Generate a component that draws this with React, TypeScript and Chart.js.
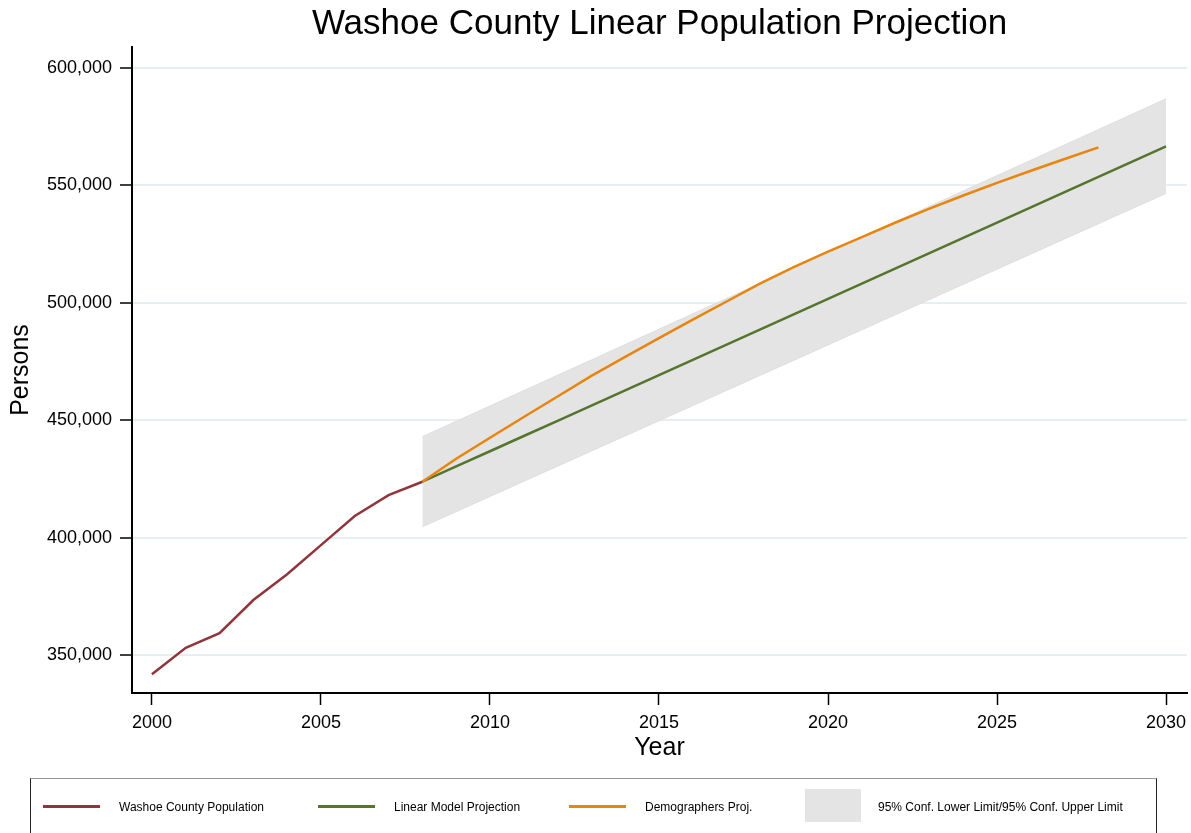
import React, { useEffect, useRef } from "react";
import { Chart, registerables } from "chart.js";

Chart.register(...registerables);

const FONT = "'Liberation Sans', Arial, Helvetica, sans-serif";

const TITLE = "Washoe County Linear Population Projection";
const X_TITLE = "Year";
const Y_TITLE = "Persons";

const X_TICKS = [2000, 2005, 2010, 2015, 2020, 2025, 2030];
const Y_TICKS = [350000, 400000, 450000, 500000, 550000, 600000];

const POP_YEARS = [2000, 2001, 2002, 2003, 2004, 2005, 2006, 2007, 2008];
const POP_VALUES = [341800, 353100, 359300, 373400, 384400, 396800, 409200, 418100, 423800];

const PROJ_YEARS = [
  2008, 2009, 2010, 2011, 2012, 2013, 2014, 2015, 2016, 2017, 2018, 2019,
  2020, 2021, 2022, 2023, 2024, 2025, 2026, 2027, 2028, 2029, 2030,
];
const LINEAR_VALUES = [
  423800, 430290, 436780, 443270, 449760, 456250, 462740, 469230, 475720, 482210,
  488700, 495190, 501680, 508170, 514660, 521150, 527640, 534130, 540620, 547110,
  553600, 560090, 566580,
];
const CI_UPPER = [
  443000, 449530, 456070, 462600, 469140, 475680, 482220, 488760, 495300, 501840,
  508380, 514920, 521460, 528000, 534540, 541090, 547630, 554170, 560710, 567250,
  573790, 580330, 586870,
];
const CI_LOWER = [
  404600, 411050, 417510, 423960, 430410, 436870, 443320, 449770, 456220, 462680,
  469130, 475580, 482040, 488490, 494940, 501400, 507850, 514300, 520750, 527210,
  533660, 540110, 546570,
];

const DEMO_YEARS = [
  2008, 2009, 2010, 2011, 2012, 2013, 2014, 2015, 2016, 2017, 2018, 2019,
  2020, 2021, 2022, 2023, 2024, 2025, 2026, 2027, 2028,
];
const DEMO_VALUES = [
  423800, 433600, 442550, 451350, 460100, 468900, 476950, 484950, 492800, 500550,
  508300, 515300, 521800, 528000, 534200, 540100, 545700, 551050, 556250, 561250,
  566200,
];

const LEGEND_LABELS = [
  "Washoe County Population",
  "Linear Model Projection",
  "Demographers Proj.",
  "95% Conf. Lower Limit/95% Conf. Upper Limit",
];

const C_POP = "#90353B";
const C_LIN = "#55752F";
const C_DEMO = "#E8850C";
const C_BAND = "#e4e4e4";

const pts = (xs: number[], ys: number[]) => xs.map((x, i) => ({ x, y: ys[i] }));

export default function App() {
  const ref = useRef<HTMLCanvasElement | null>(null);

  useEffect(() => {
    if (!ref.current) return;
    const chart = new Chart(ref.current, {
      type: "line",
      data: {
        datasets: [
          {
            label: LEGEND_LABELS[2],
            data: pts(DEMO_YEARS, DEMO_VALUES),
            borderColor: C_DEMO,
            borderWidth: 2.5,
            pointRadius: 0,
            fill: false,
            tension: 0,
            order: 0,
          },
          {
            label: LEGEND_LABELS[1],
            data: pts(PROJ_YEARS, LINEAR_VALUES),
            borderColor: C_LIN,
            borderWidth: 2.5,
            pointRadius: 0,
            fill: false,
            tension: 0,
            order: 1,
          },
          {
            label: LEGEND_LABELS[0],
            data: pts(POP_YEARS, POP_VALUES),
            borderColor: C_POP,
            borderWidth: 2.5,
            pointRadius: 0,
            fill: false,
            tension: 0,
            order: 2,
          },
          {
            label: "lower",
            data: pts(PROJ_YEARS, CI_LOWER),
            borderColor: "#dedede",
            borderWidth: 1,
            pointRadius: 0,
            fill: false,
            tension: 0,
            order: 3,
          },
          {
            label: LEGEND_LABELS[3],
            data: pts(PROJ_YEARS, CI_UPPER),
            borderColor: "#dedede",
            borderWidth: 1,
            backgroundColor: C_BAND,
            pointRadius: 0,
            fill: "-1",
            tension: 0,
            order: 4,
          },
        ],
      },
      options: {
        animation: false,
        responsive: true,
        maintainAspectRatio: false,
        layout: { padding: { top: 0, left: 0, right: 4, bottom: 63 } },
        plugins: {
          legend: { display: false },
          tooltip: { enabled: false },
          title: {
            display: true,
            text: TITLE,
            fullSize: false,
            color: "#000",
            font: { family: FONT, size: 35, weight: "normal" },
            padding: { top: 3, bottom: 2 },
          },
        },
        scales: {
          x: {
            type: "linear",
            min: 1999.41,
            max: 2030.62,
            afterBuildTicks: (s: any) => {
              s.ticks = X_TICKS.map((v) => ({ value: v }));
            },
            afterFit: (s: any) => {
              s.height = 77;
              s.paddingLeft = 0;
              s.paddingRight = 0;
            },
            grid: {
              drawOnChartArea: false,
              drawTicks: true,
              tickLength: 12,
              tickColor: "#000",
              tickWidth: 1.5,
            },
            border: { display: true, color: "#000", width: 2 },
            ticks: {
              color: "#000",
              padding: 7,
              maxRotation: 0,
              autoSkip: false,
              font: { family: FONT, size: 18 },
              callback: (v: any) => String(v),
            },
            title: {
              display: true,
              text: X_TITLE,
              color: "#000",
              font: { family: FONT, size: 25 },
              padding: { top: 0, bottom: 7 },
            },
          },
          y: {
            type: "linear",
            min: 333820,
            max: 608940,
            afterBuildTicks: (s: any) => {
              s.ticks = Y_TICKS.map((v) => ({ value: v }));
            },
            afterFit: (s: any) => {
              s.width = 132;
              s.paddingTop = 0;
              s.paddingBottom = 0;
            },
            grid: {
              drawOnChartArea: true,
              color: "#e6eff1",
              lineWidth: 2,
              drawTicks: true,
              tickLength: 12,
              tickColor: "#000",
              tickWidth: 1.5,
            },
            border: { display: true, color: "#000", width: 2 },
            ticks: {
              color: "#000",
              padding: 8,
              autoSkip: false,
              font: { family: FONT, size: 18 },
              callback: (v: any) => Number(v).toLocaleString("en-US"),
            },
            title: {
              display: true,
              text: Y_TITLE,
              color: "#000",
              font: { family: FONT, size: 25 },
              padding: { top: 6, bottom: 0 },
            },
          },
        },
      },
    });
    return () => chart.destroy();
  }, []);

  const textStyle: React.CSSProperties = {
    position: "absolute",
    top: 21,
    fontFamily: FONT,
    fontSize: 12,
    lineHeight: "14px",
    color: "#000",
    whiteSpace: "nowrap",
  };
  const lineStyle = (left: number, color: string): React.CSSProperties => ({
    position: "absolute",
    left,
    top: 26,
    width: 57,
    height: 3,
    background: color,
  });

  return (
    <div
      style={{
        position: "fixed",
        left: 0,
        top: 0,
        width: 1191,
        height: 833,
        overflow: "hidden",
        background: "#fff",
      }}
    >
      <canvas ref={ref} style={{ position: "absolute", left: 0, top: 0 }} />
      <div
        style={{
          position: "absolute",
          left: 30,
          top: 778,
          width: 1127,
          height: 80,
          borderLeft: "1.5px solid #222",
          borderRight: "1.5px solid #222",
          borderTop: "1.5px solid #999",
          boxSizing: "border-box",
        }}
      >
        <div style={lineStyle(12, C_POP)} />
        <div style={{ ...textStyle, left: 88 }}>{LEGEND_LABELS[0]}</div>
        <div style={lineStyle(287, C_LIN)} />
        <div style={{ ...textStyle, left: 363 }}>{LEGEND_LABELS[1]}</div>
        <div style={lineStyle(538, C_DEMO)} />
        <div style={{ ...textStyle, left: 614 }}>{LEGEND_LABELS[2]}</div>
        <div
          style={{
            position: "absolute",
            left: 774,
            top: 10,
            width: 56,
            height: 33,
            background: C_BAND,
          }}
        />
        <div style={{ ...textStyle, left: 847 }}>{LEGEND_LABELS[3]}</div>
      </div>
    </div>
  );
}
